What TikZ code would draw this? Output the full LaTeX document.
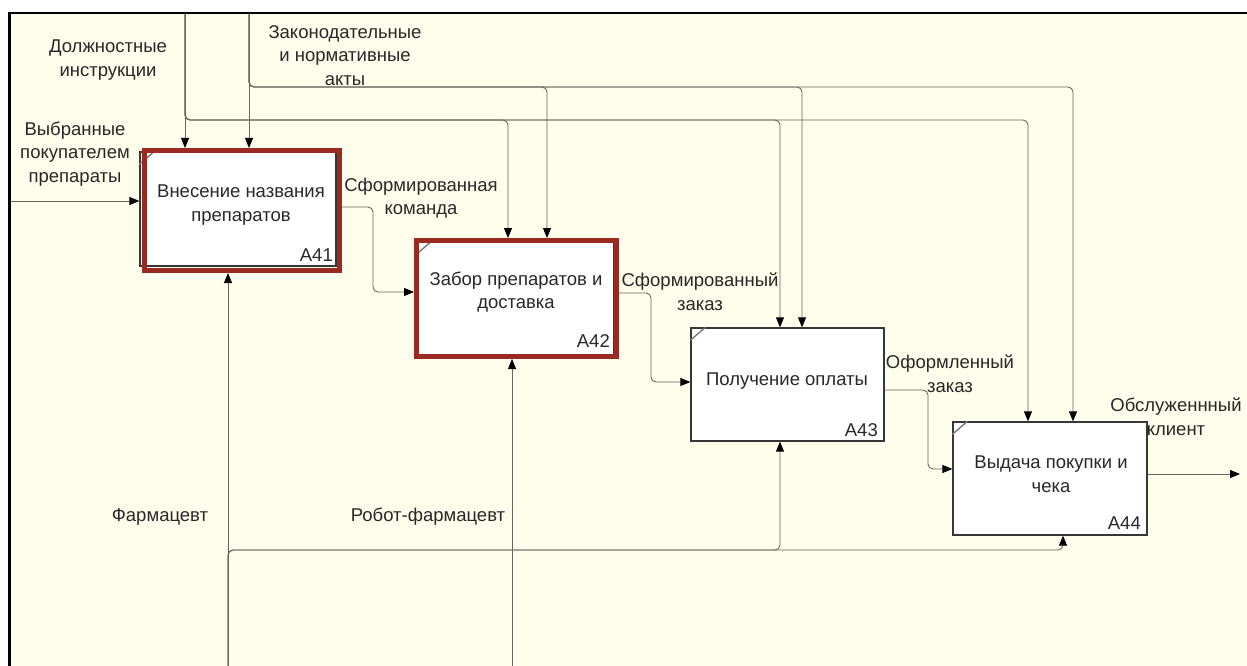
\documentclass[tikz,border=0pt]{standalone}
\usepackage{fontspec}
\setmainfont{Liberation Sans}
\usetikzlibrary{arrows.meta}
\definecolor{bgc}{RGB}{255,253,236}
\definecolor{linec}{RGB}{105,102,92}
\definecolor{redc}{RGB}{155,42,32}
\definecolor{txtc}{RGB}{40,40,40}
\definecolor{boxc}{RGB}{55,55,55}
\definecolor{markc}{RGB}{120,120,120}
\begin{document}
\begin{tikzpicture}[x=1pt,y=-1pt,
  every node/.style={font=\fontsize{18.5}{23.5}\selectfont, text=txtc},
  box/.style={draw=boxc, line width=1.3pt, fill=white, inner sep=0pt},
  redframe/.style={draw=redc, line width=5pt, inner sep=0pt, outer sep=2.5pt},
  flow/.style={draw=linec, line width=0.9pt, rounded corners=5pt,
    -{Triangle[length=10pt,width=8pt,color=black]}},
  marker/.style={draw=markc, line width=1.4pt},
  lbl/.style={align=center, inner sep=0pt},
  num/.style={anchor=east, inner sep=0pt}]
\useasboundingbox (0,0) rectangle (1247,666);
\fill[white] (0,0) rectangle (1247,666);
\fill[bgc] (9.5,13.3) rectangle (1247,666);
\draw[black, line width=2.2pt] (9.5,666) -- (9.5,13.3) -- (1247,13.3);

% free ends
\coordinate (inL) at (10.6,201);
\coordinate (ctlD) at (185,14.4);
\coordinate (ctlZ) at (249,14.4);
\coordinate (mechF) at (228,666);
\coordinate (mechR) at (512,666);
\coordinate (outR) at (1240,474);

% boxes
\node[box, minimum width=196pt, minimum height=114pt] (a41) at (238,209) {};
\node[box, minimum width=197pt, minimum height=113pt] (a42) at (515.5,298.5) {};
\node[box, minimum width=193pt, minimum height=113pt] (a43) at (787.5,384.5) {};
\node[box, minimum width=194pt, minimum height=113pt] (a44) at (1050,478.5) {};

\draw[marker] ([yshift=-13pt]a41.north west) -- ([xshift=15pt]a41.north west);
\draw[marker] ([yshift=-13pt]a42.north west) -- ([xshift=15pt]a42.north west);
\draw[marker] ([yshift=-13pt]a43.north west) -- ([xshift=15pt]a43.north west);
\draw[marker] ([yshift=-13pt]a44.north west) -- ([xshift=15pt]a44.north west);

% red frames
\node[redframe, minimum width=195pt, minimum height=120pt] (f41) at (242,210.5) {};
\node[redframe, minimum width=200pt, minimum height=116pt] (f42) at (516.5,298.5) {};

% box texts
\node[lbl] (t41) at (241,205) {Внесение названия\\препаратов};
\node[lbl] (t42) at (516,292) {Забор препаратов и\\доставка};
\node[lbl] (t43) at (787,381) {Получение оплаты};
\node[lbl] (t44) at (1051,474) {Выдача покупки и\\чека};
\node[num] (n41) at (333,255) {A41};
\node[num] (n42) at (610,341) {A42};
\node[num] (n43) at (878,430) {A43};
\node[num] (n44) at (1141,523) {A44};

% input
\draw[flow] (inL) -- (a41.west |- inL);

% controls
\draw[flow] (ctlD) -- (ctlD |- f41.north);
\draw[flow] (ctlD) |- (508,120) -- (508,0 |- f42.north);
\draw[flow] (ctlD) |- (780,120) -- (780,0 |- a43.north);
\draw[flow] (ctlD) |- (1028,120) -- (1028,0 |- a44.north);
\draw[flow] (ctlZ) -- (ctlZ |- f41.north);
\draw[flow] (ctlZ) |- (547,87) -- (547,0 |- f42.north);
\draw[flow] (ctlZ) |- (802,87) -- (802,0 |- a43.north);
\draw[flow] (ctlZ) |- (1073,87) -- (1073,0 |- a44.north);

% mechanisms
\draw[flow] (mechF) -- (mechF |- f41.south);
\draw[flow] (mechF) |- (780,550) -- (780,0 |- a43.south);
\draw[flow] (mechF) |- (1063,550) -- (1063,0 |- a44.south);
\draw[flow] (mechR) -- (mechR |- f42.south);

% outputs
\draw[flow] (f41.east |- 0,207) -- (373,207) -- (373,292) -- (f42.west |- 0,292);
\draw[flow] (f42.east |- 0,293) -- (651,293) -- (651,382) -- (a43.west |- 0,382);
\draw[flow] (a43.east |- 0,390) -- (928,390) -- (928,469) -- (a44.west |- 0,469);
\draw[flow] (a44.east |- 0,474) -- (outR);

% arrow labels
\node[lbl] (l1) at (75,154) {Выбранные\\покупателем\\препараты};
\node[lbl] (l2) at (108,60) {Должностные\\инструкции};
\node[lbl] (l3) at (345,55.5) {Законодательные\\и нормативные\\акты};
\node[lbl] (l4) at (421,198) {Сформированная\\команда};
\node[lbl] (l5) at (700,291.5) {Сформированный\\заказ};
\node[lbl] (l6) at (950,373.5) {Оформленный\\заказ};
\node[lbl] (l7) at (1176,416.5) {Обслуженнный\\клиент};
\node[lbl] (l8) at (160,517) {Фармацевт};
\node[lbl] (l9) at (428,517) {Робот-фармацевт};
\end{tikzpicture}
\end{document}
